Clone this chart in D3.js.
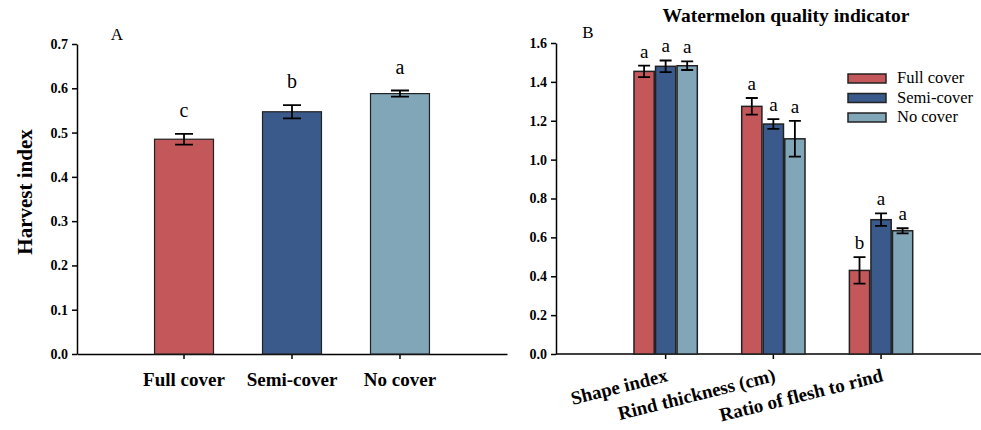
<!doctype html>
<html>
<head>
<meta charset="utf-8"/>
<script src="https://cdnjs.cloudflare.com/ajax/libs/d3/7.8.5/d3.min.js"></script>
<style>
  body { margin: 0; background: #fff; }
  svg { display: block; font-family: "Liberation Serif", "DejaVu Serif", serif; }
  .axis path, .axis line { stroke: #000; stroke-width: 1.5px; }
  .axis text { font-weight: bold; font-size: 14px; fill: #000; font-family: "Liberation Serif", serif; }
  .bar { stroke: #222; stroke-width: 1.2px; }
  .err { stroke: #000; stroke-width: 1.8px; fill: none; }
  .letter { font-size: 20px; text-anchor: middle; }
</style>
</head>
<body>
<svg width="981" height="430"></svg>
<script>
// panel A data
var treatments = ["Full cover", "Semi-cover", "No cover"];
var colors = ["#C4575A", "#3A5A8B", "#80A6B8"];
var harvestIndex = [0.485, 0.547, 0.588];
var harvestErr = [0.012, 0.015, 0.007];
var harvestLetters = ["c", "b", "a"];
var yTicksA = [0, 0.1, 0.2, 0.3, 0.4, 0.5, 0.6, 0.7];

// panel B data
var indicators = ["Shape index", "Rind thickness (cm)", "Ratio of flesh to rind"];
var fullCover = [1.454, 1.274, 0.430];
var semiCover = [1.480, 1.183, 0.691];
var noCover = [1.483, 1.107, 0.634];
var fullErr = [0.030, 0.043, 0.068];
var semiErr = [0.030, 0.025, 0.032];
var noErr = [0.022, 0.092, 0.013];
var lettersB = [["a", "a", "a"], ["a", "a", "a"], ["b", "a", "a"]];
var yTicksB = [0, 0.2, 0.4, 0.6, 0.8, 1.0, 1.2, 1.4, 1.6];

var svg = d3.select("svg");

// ---------- Panel A ----------
var xA = d3.scaleBand().domain(treatments).range([77, 507]).paddingInner(0.454).paddingOuter(0.718);
var yA = d3.scaleLinear().domain([0, 0.7]).range([354, 44]);

var gA = svg.append("g");
gA.append("g").attr("class", "axis").attr("transform", "translate(77,0)")
  .call(d3.axisLeft(yA).tickValues(yTicksA).tickFormat(d3.format(".1f")).tickSize(5).tickSizeOuter(0))
  .call(g => g.selectAll("text").attr("x", -9));
gA.append("g").attr("class", "axis").attr("transform", "translate(0,354)")
  .call(d3.axisBottom(xA).tickSize(5).tickSizeOuter(0))
  .call(g => g.selectAll("text").style("font-size", "19px").attr("y", 19));

var dataA = treatments.map((t, i) => ({t: t, v: harvestIndex[i], e: harvestErr[i], l: harvestLetters[i], c: colors[i]}));
gA.selectAll("rect").data(dataA).enter().append("rect")
  .attr("class", "bar")
  .attr("x", d => xA(d.t)).attr("width", xA.bandwidth())
  .attr("y", d => yA(d.v)).attr("height", d => yA(0) - yA(d.v))
  .attr("fill", d => d.c);

function errBar(g, cx, top, bot, w) {
  g.append("path").attr("class", "err")
    .attr("d", "M" + (cx - w) + "," + top + "H" + (cx + w) + "M" + cx + "," + top + "V" + bot + "M" + (cx - w) + "," + bot + "H" + (cx + w));
}
dataA.forEach(d => {
  var cx = xA(d.t) + xA.bandwidth() / 2;
  errBar(gA, cx, yA(d.v + d.e), yA(d.v - d.e), 9);
  gA.append("text").attr("class", "letter").attr("x", cx).attr("y", yA(d.v + d.e) - 17).text(d.l);
});

gA.append("text").attr("transform", "translate(32,192) rotate(-90)")
  .attr("text-anchor", "middle").style("font-weight", "bold").style("font-size", "21px").text("Harvest index");
gA.append("text").attr("x", 117).attr("y", 40).attr("text-anchor", "middle").style("font-size", "17px").text("A");

// ---------- Panel B ----------
var xB = d3.scaleBand().domain(indicators).range([556, 990.7]).paddingInner(0.412).paddingOuter(0.724);
var yB = d3.scaleLinear().domain([0, 1.6]).range([354, 43]);
var series = ["Full cover", "Semi-cover", "No cover"];
var xSub = d3.scaleBand().domain(series).range([0, xB.bandwidth()]).paddingInner(0.06);

var gB = svg.append("g");
gB.append("g").attr("class", "axis").attr("transform", "translate(556,0)")
  .call(d3.axisLeft(yB).tickValues(yTicksB).tickFormat(d3.format(".1f")).tickSize(5).tickSizeOuter(0))
  .call(g => g.selectAll("text").attr("x", -9));
var xAxisB = gB.append("g").attr("class", "axis").attr("transform", "translate(0,354)")
  .call(d3.axisBottom(xB).tickSize(5).tickSizeOuter(0));
xAxisB.select(".domain").attr("d", "M556,0H981");
xAxisB.selectAll("text")
  .style("font-size", "19px").attr("text-anchor", "end")
  .attr("y", 0).attr("dy", 0)
  .attr("transform", "translate(3,27) rotate(-14)");

var vals = [fullCover, semiCover, noCover];
var errs = [fullErr, semiErr, noErr];
indicators.forEach((ind, i) => {
  series.forEach((s, j) => {
    var v = vals[j][i], e = errs[j][i];
    var x0 = xB(ind) + xSub(s);
    gB.append("rect").attr("class", "bar")
      .attr("x", x0).attr("width", xSub.bandwidth())
      .attr("y", yB(v)).attr("height", yB(0) - yB(v))
      .attr("fill", colors[j]).style("stroke-width", "1.5px");
    var cx = x0 + xSub.bandwidth() / 2;
    errBar(gB, cx, yB(v + e), yB(v - e), 6);
    gB.append("text").attr("class", "letter").style("font-size", "19px")
      .attr("x", cx).attr("y", yB(v + e) - 8).text(lettersB[i][j]);
  });
});

// legend
var leg = gB.append("g").attr("transform", "translate(848,74)");
series.forEach((s, j) => {
  leg.append("rect").attr("class", "bar").attr("x", 0).attr("y", j * 19.5).attr("width", 38).attr("height", 9)
    .attr("fill", colors[j]).style("stroke-width", "1.5px");
  leg.append("text").attr("x", 49).attr("y", j * 19.5 + 9).style("font-size", "16.5px").text(s);
});

gB.append("text").attr("x", 786).attr("y", 22).attr("text-anchor", "middle")
  .style("font-weight", "bold").style("font-size", "19.5px").text("Watermelon quality indicator");
gB.append("text").attr("x", 588).attr("y", 38).attr("text-anchor", "middle").style("font-size", "17px").text("B");
</script>
</body>
</html>
